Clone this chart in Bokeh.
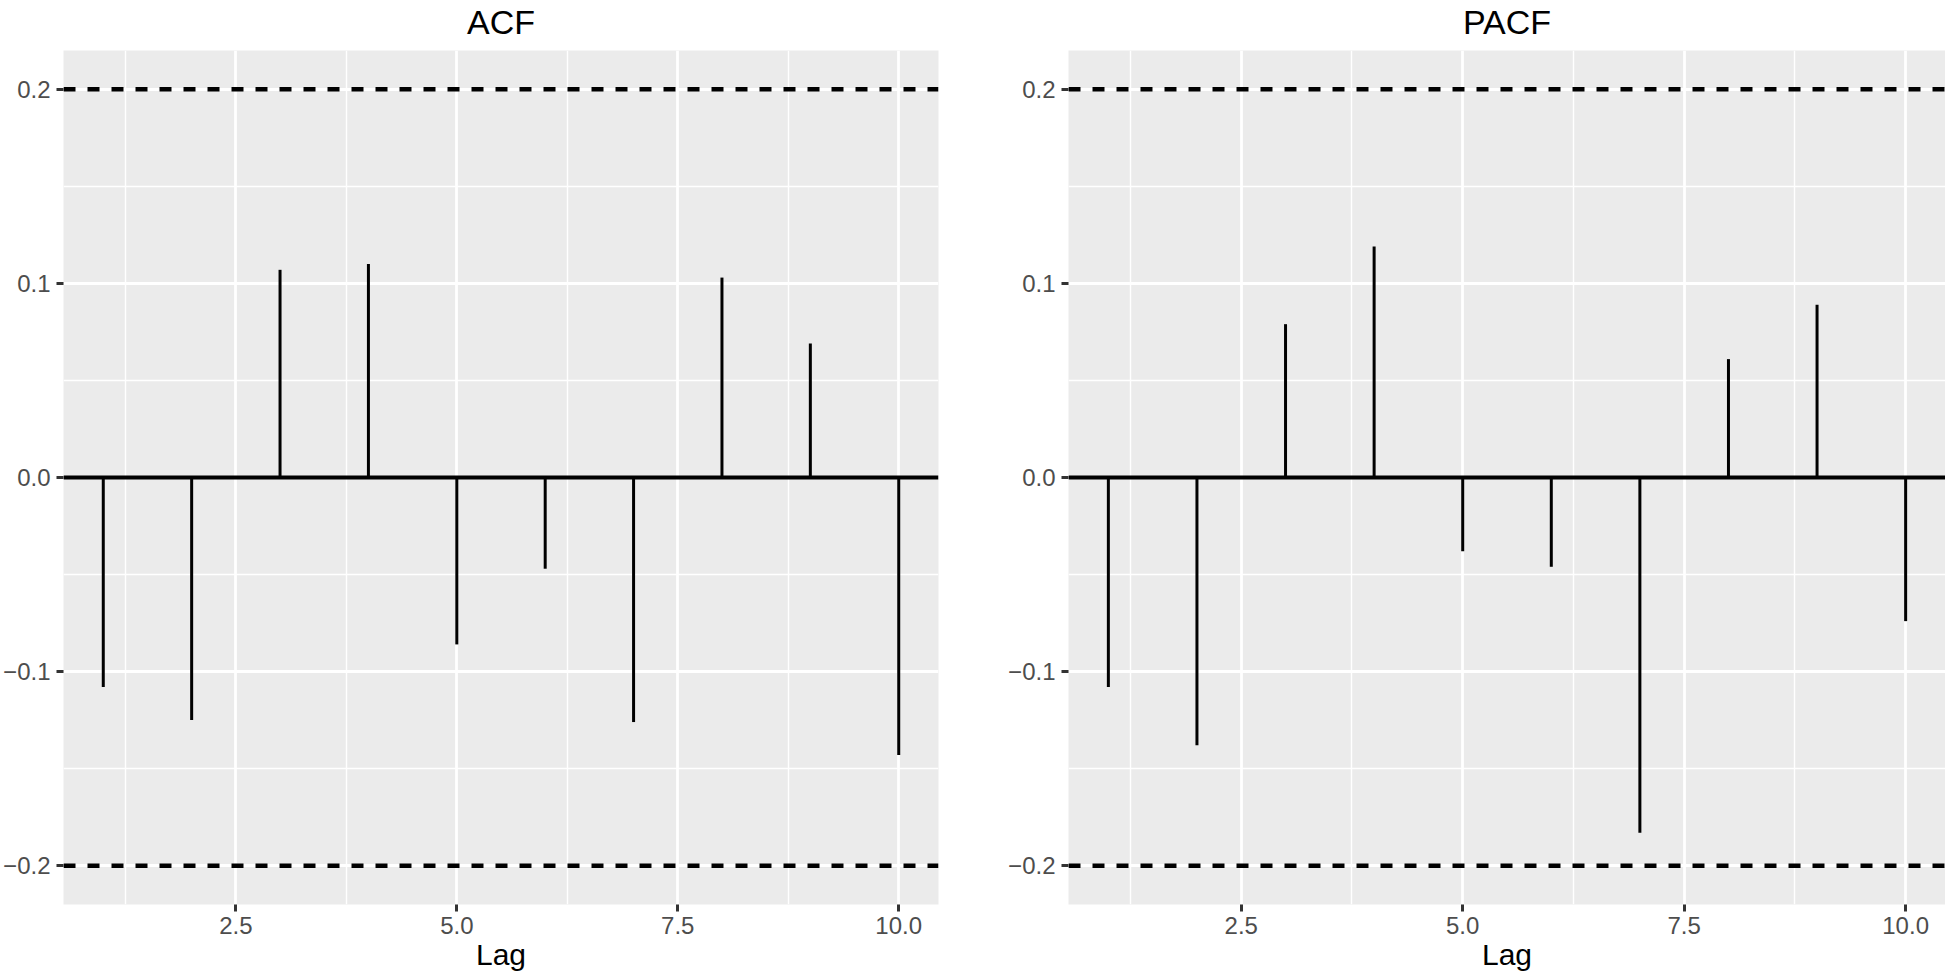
from bokeh.plotting import figure
from bokeh.models import Range1d, FixedTicker, Span, Title
from bokeh.layouts import row
from bokeh.embed import file_html
from bokeh.resources import INLINE

# ---- data ----
lags = [1, 2, 3, 4, 5, 6, 7, 8, 9, 10]
acf_values = [-0.108, -0.125, 0.107, 0.110, -0.086, -0.047, -0.126, 0.103, 0.069, -0.143]
pacf_values = [-0.108, -0.138, 0.079, 0.119, -0.038, -0.046, -0.183, 0.061, 0.089, -0.074]
conf_limits = [0.2, -0.2]
panel_titles = ["ACF", "PACF"]
x_label = "Lag"
x_ticks = [2.5, 5.0, 7.5, 10.0]
x_tick_labels = ["2.5", "5.0", "7.5", "10.0"]
x_minor = [1.25, 3.75, 6.25, 8.75]
y_ticks = [-0.2, -0.1, 0.0, 0.1, 0.2]
y_tick_labels = ["\u22120.2", "\u22120.1", "0.0", "0.1", "0.2"]
y_minor = [-0.15, -0.05, 0.05, 0.15]

X_RANGE = (0.55, 10.45)
Y_RANGE = (-0.22, 0.22)
FONT = "Liberation Sans"
H = 977


def make_panel(title, values, width, bl, br):
    p = figure(width=width, height=H,
               x_range=Range1d(*X_RANGE), y_range=Range1d(*Y_RANGE),
               output_backend="svg", toolbar_location=None, tools="",
               min_border_left=bl, min_border_right=br,
               min_border_top=50, min_border_bottom=73)
    p.background_fill_color = "#EBEBEB"
    p.border_fill_color = "white"
    p.outline_line_color = None

    # spacer between the frame and the title (closest to the frame)
    p.add_layout(Title(text=" ", text_font_size="1px", standoff=4), "above")
    p.add_layout(Title(text=title, align="center", vertical_align="top",
                       text_font=FONT, text_font_size="34px",
                       text_font_style="normal", text_color="black",
                       standoff=2), "above")

    xt = FixedTicker(ticks=x_ticks, minor_ticks=x_minor)
    yt = FixedTicker(ticks=y_ticks, minor_ticks=y_minor)
    p.xaxis.ticker = xt
    p.yaxis.ticker = yt
    p.xgrid.ticker = xt
    p.ygrid.ticker = yt
    for g in (p.xgrid, p.ygrid):
        g.grid_line_color = "white"
        g.grid_line_width = 2.8
        g.minor_grid_line_color = "white"
        g.minor_grid_line_width = 1.4

    for ax in (p.xaxis, p.yaxis):
        ax.axis_line_color = None
        ax.major_tick_line_color = "#333333"
        ax.major_tick_line_width = 3
        ax.major_tick_in = 0
        ax.major_tick_out = 7
        ax.minor_tick_line_color = None
        ax.major_label_text_color = "#4D4D4D"
        ax.major_label_text_font = FONT
        ax.major_label_text_font_size = "24px"
    p.xaxis.major_label_standoff = 5
    p.yaxis.major_label_standoff = 6
    p.xaxis.major_label_overrides = dict(zip(x_ticks, x_tick_labels))
    p.yaxis.major_label_overrides = dict(zip(y_ticks, y_tick_labels))
    p.xaxis.axis_label = x_label
    p.xaxis.axis_label_text_font = FONT
    p.xaxis.axis_label_text_font_size = "30px"
    p.xaxis.axis_label_text_font_style = "normal"
    p.xaxis.axis_label_text_color = "black"
    p.xaxis.axis_label_standoff = 1

    for c in conf_limits:
        p.add_layout(Span(location=c, dimension="width", line_color="black",
                          line_width=4.5, line_dash="12 12"))
    p.add_layout(Span(location=0, dimension="width", line_color="black", line_width=4))
    p.segment(x0=lags, y0=[0] * len(lags), x1=lags, y1=values,
              line_color="black", line_width=3)
    return p


p1 = make_panel(panel_titles[0], acf_values, 1000, 62, 62)
p2 = make_panel(panel_titles[1], pacf_values, 945, 68, 0)
layout = row(p1, p2)

open("out.html", "w").write(file_html(layout, INLINE))
